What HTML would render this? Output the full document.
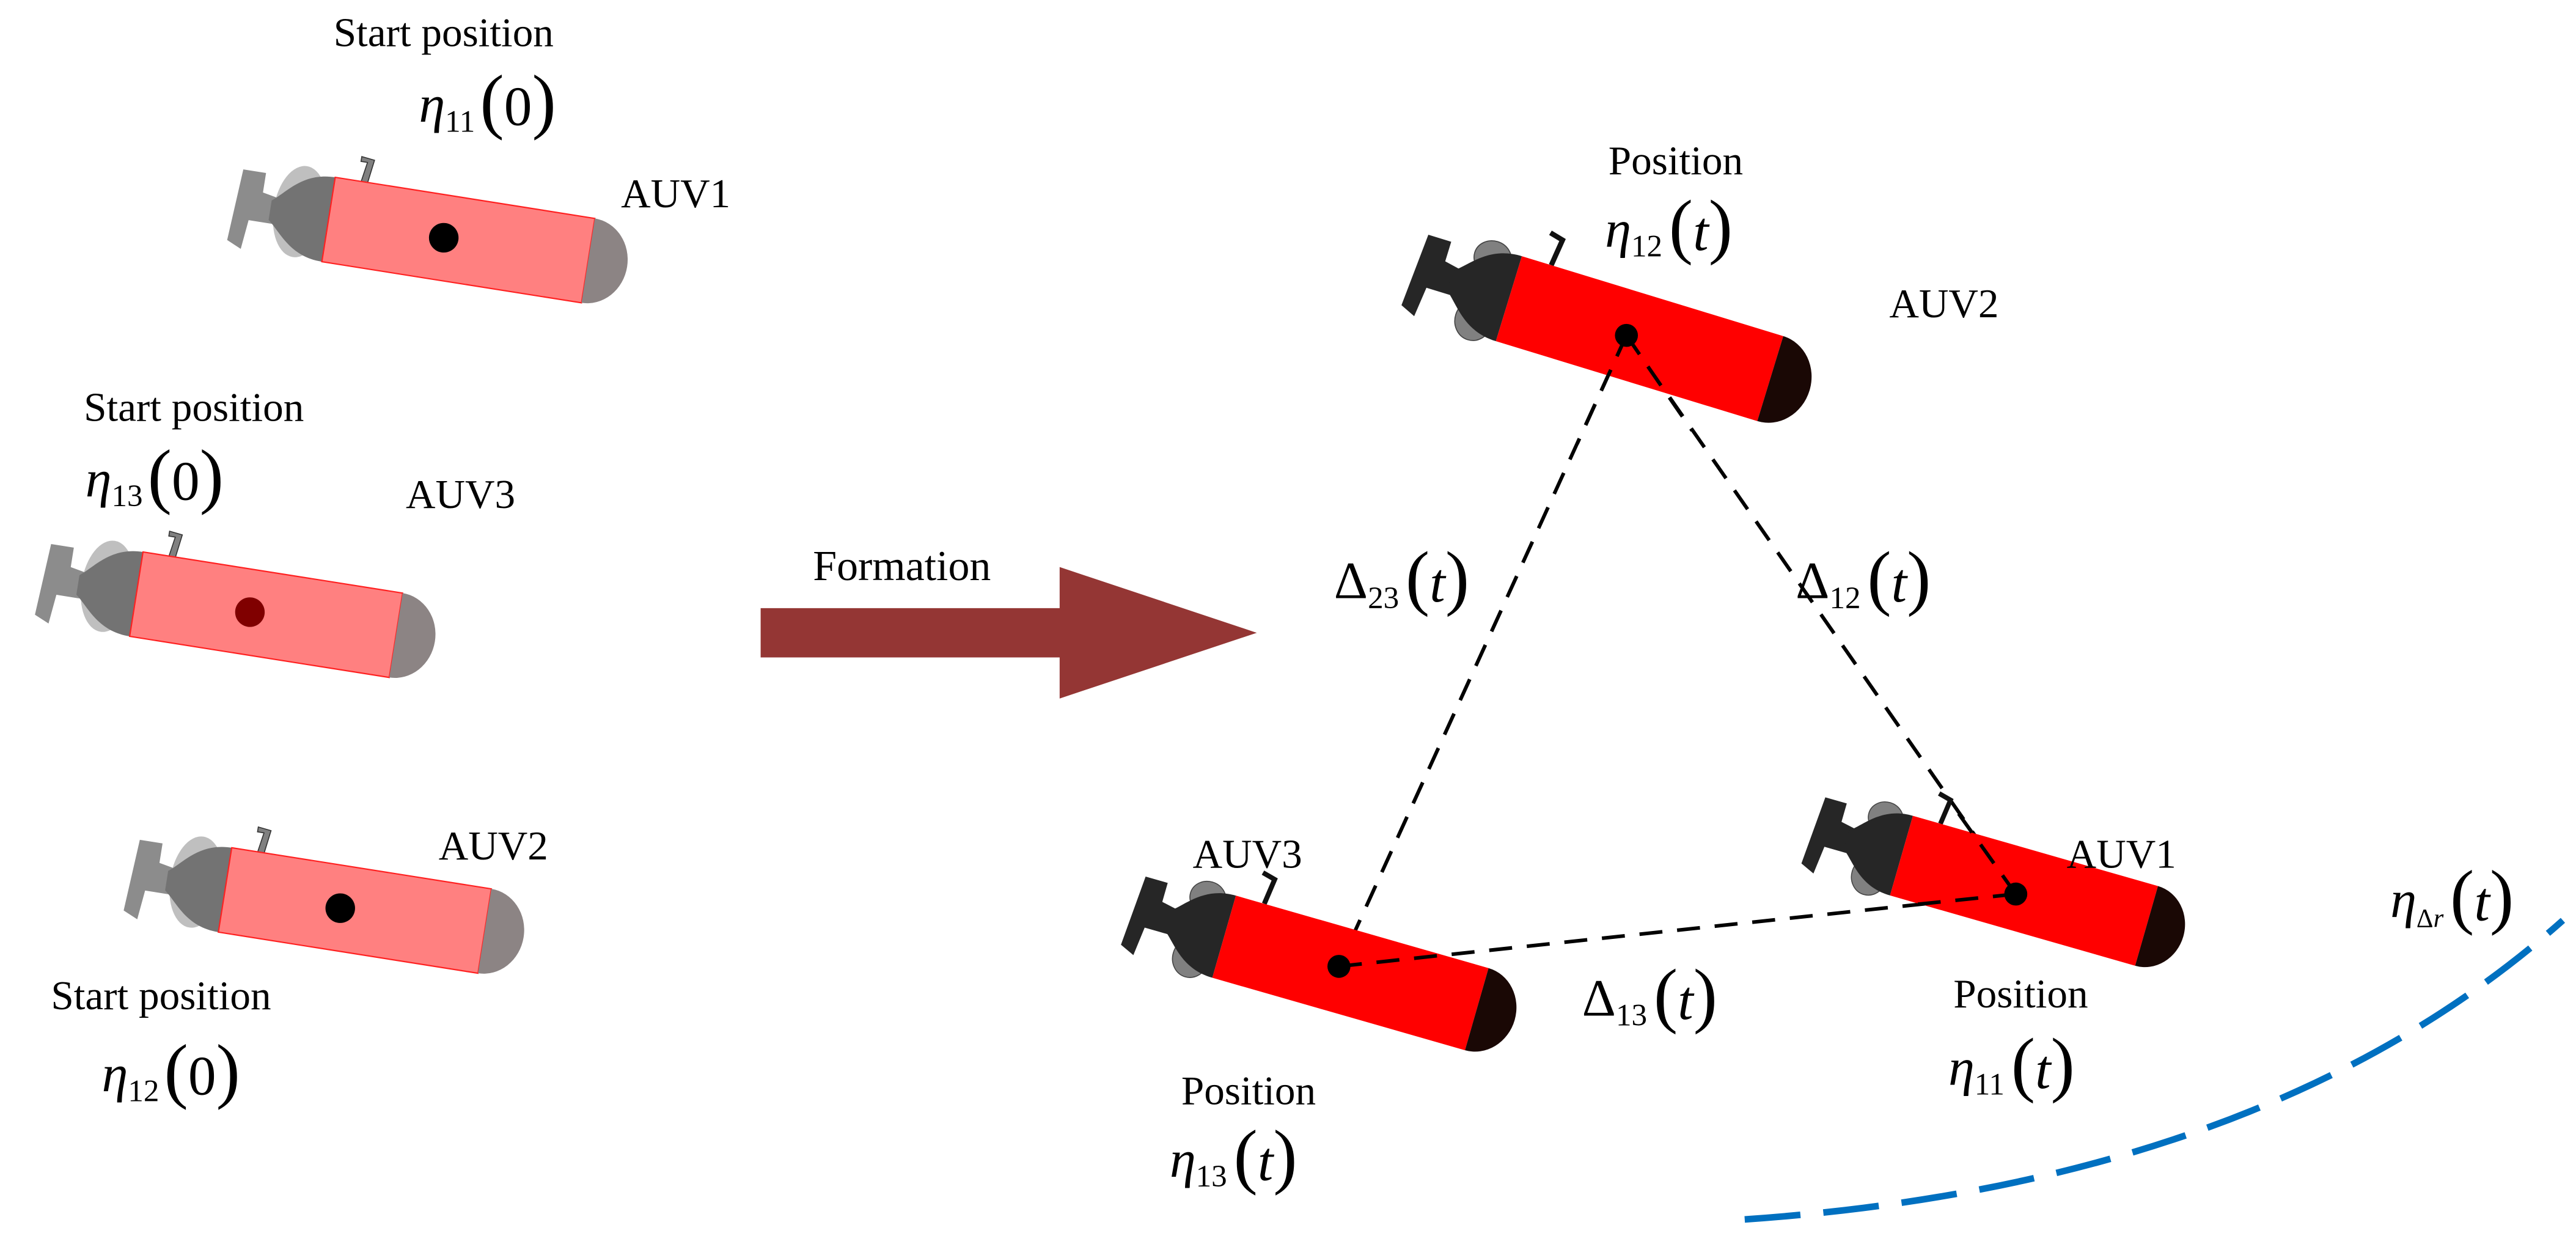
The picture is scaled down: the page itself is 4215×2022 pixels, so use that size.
<!DOCTYPE html>
<html><head><meta charset="utf-8"><style>html,body{margin:0;padding:0;background:#fff}svg{display:block}text{font-family:"Liberation Serif",serif;fill:#000}</style></head>
<body>
<svg width="4215" height="2022" viewBox="0 0 1568 752" xmlns="http://www.w3.org/2000/svg">
<defs>
<g id="fad">
<path d="M-60,-26 L-58,-40 L-66,-41 L-66,-38 L-62,-38 L-64,-26Z" fill="#808080" stroke="#333" stroke-width="0.6"/>
<polygon points="-112,-8 -122,-10 -122,-22 -136,-22 -139,22 -130,26 -128,8 -112,8" fill="#8c8c8c"/>
<ellipse cx="-98" cy="-2" rx="16" ry="28" fill="#bfbfbf"/>
<path d="M-80,-26 C-100,-26 -108,-12 -116,-6 L-116,6 C-108,12 -100,26 -80,26 Z" fill="#737373"/>
<rect x="-80" y="-26" width="160" height="52" fill="#ff8080" stroke="#ff2020" stroke-width="0.8"/>
<path d="M80,-26 A24,26 0 0 1 80,26 Z" fill="#8c8484"/>
</g>
<g id="red">
<path d="M-62,-26 L-60,-42 L-68,-44" fill="none" stroke="#111" stroke-width="3"/>
<polygon points="-112,-8 -122,-10 -122,-22 -136,-22 -139,22 -130,26 -128,8 -112,8" fill="#262626"/>
<ellipse cx="-96" cy="-20" rx="11" ry="10" fill="#808080" stroke="#444" stroke-width="0.6"/>
<ellipse cx="-96" cy="18" rx="11" ry="12" fill="#808080" stroke="#444" stroke-width="0.6"/>
<path d="M-80,-26 C-100,-26 -108,-12 -116,-6 L-116,6 C-108,12 -100,26 -80,26 Z" fill="#262626"/>
<rect x="-80" y="-26" width="160" height="52" fill="#ff0000"/>
<path d="M80,-26 A24,26 0 0 1 80,26 Z" fill="#1a0805"/>
</g>
</defs>

<g transform="translate(279,146) rotate(9)"><use href="#fad"/><circle cx="-9" cy="0" r="9"/></g>
<g transform="translate(162,374) rotate(9)"><use href="#fad"/><circle cx="-10" cy="0" r="9" fill="#800000"/></g>
<g transform="translate(216,554) rotate(9)"><use href="#fad"/><circle cx="-9" cy="0" r="9"/></g>

<polygon points="463,370 645,370 645,345 765,385 645,425 645,400 463,400" fill="#943634"/>
<text x="549" y="353" font-size="26" text-anchor="middle">Formation</text>

<g stroke="#000" stroke-width="2.2" stroke-dasharray="14,9" fill="none">
<line x1="990" y1="204" x2="815" y2="588"/>
<line x1="990" y1="204" x2="1227" y2="544"/>
<line x1="815" y1="588" x2="1227" y2="544"/>
</g>

<g transform="translate(998,206) rotate(17) scale(1.04)"><use href="#red"/></g>
<g transform="translate(822,592) rotate(16) scale(1.0)"><use href="#red"/></g>
<g transform="translate(1232,542) rotate(16) scale(0.97)"><use href="#red"/></g>
<g stroke="#000" stroke-width="2.2" stroke-dasharray="14,9" fill="none">
<line x1="990" y1="204" x2="960" y2="270"/>
<line x1="990" y1="204" x2="1030" y2="262"/>
<line x1="815" y1="588" x2="880" y2="581"/>
<line x1="1227" y1="544" x2="1190" y2="492"/>
<line x1="1227" y1="544" x2="1160" y2="551"/>
</g>
<circle cx="990" cy="204" r="7"/><circle cx="815" cy="588" r="7"/><circle cx="1227" cy="544" r="7"/>

<path d="M1062,742 Q1380,720 1560,560" fill="none" stroke="#0070c0" stroke-width="4" stroke-dasharray="34,14"/>

<g font-size="25">
<text x="270" y="28" text-anchor="middle">Start position</text>
<text x="118" y="256" text-anchor="middle">Start position</text>
<text x="98" y="614" text-anchor="middle">Start position</text>
<text x="378" y="126">AUV1</text>
<text x="247" y="309">AUV3</text>
<text x="267" y="523">AUV2</text>
<text x="1020" y="106" text-anchor="middle">Position</text>
<text x="1150" y="193">AUV2</text>
<text x="726" y="528">AUV3</text>
<text x="760" y="672" text-anchor="middle">Position</text>
<text x="1258" y="528">AUV1</text>
<text x="1230" y="613" text-anchor="middle">Position</text>
</g>
<g font-size="32">
<text x="255" y="74"><tspan font-style="italic">η</tspan><tspan font-size="19" dy="6">11</tspan><tspan font-size="44" dy="-4" dx="3">(</tspan><tspan font-size="34">0</tspan><tspan font-size="44">)</tspan></text>
<text x="52" y="302"><tspan font-style="italic">η</tspan><tspan font-size="19" dy="6">13</tspan><tspan font-size="44" dy="-4" dx="3">(</tspan><tspan font-size="34">0</tspan><tspan font-size="44">)</tspan></text>
<text x="62" y="664"><tspan font-style="italic">η</tspan><tspan font-size="19" dy="6">12</tspan><tspan font-size="44" dy="-4" dx="3">(</tspan><tspan font-size="34">0</tspan><tspan font-size="44">)</tspan></text>
<text x="977" y="150"><tspan font-style="italic">η</tspan><tspan font-size="19" dy="6">12</tspan><tspan font-size="44" dy="-4" dx="4">(</tspan><tspan font-style="italic" font-size="34">t</tspan><tspan font-size="44">)</tspan></text>
<text x="712" y="716"><tspan font-style="italic">η</tspan><tspan font-size="19" dy="6">13</tspan><tspan font-size="44" dy="-4" dx="4">(</tspan><tspan font-style="italic" font-size="34">t</tspan><tspan font-size="44">)</tspan></text>
<text x="1186" y="660"><tspan font-style="italic">η</tspan><tspan font-size="19" dy="6">11</tspan><tspan font-size="44" dy="-4" dx="4">(</tspan><tspan font-style="italic" font-size="34">t</tspan><tspan font-size="44">)</tspan></text>
<text x="812" y="364"><tspan>Δ</tspan><tspan font-size="19" dy="6">23</tspan><tspan font-size="44" dy="-4" dx="4">(</tspan><tspan font-style="italic" font-size="34">t</tspan><tspan font-size="44">)</tspan></text>
<text x="1093" y="364"><tspan>Δ</tspan><tspan font-size="19" dy="6">12</tspan><tspan font-size="44" dy="-4" dx="4">(</tspan><tspan font-style="italic" font-size="34">t</tspan><tspan font-size="44">)</tspan></text>
<text x="963" y="618"><tspan>Δ</tspan><tspan font-size="19" dy="6">13</tspan><tspan font-size="44" dy="-4" dx="4">(</tspan><tspan font-style="italic" font-size="34">t</tspan><tspan font-size="44">)</tspan></text>
<text x="1455" y="558"><tspan font-style="italic">η</tspan><tspan font-size="16" dy="6">Δ<tspan font-style="italic">r</tspan></tspan><tspan font-size="44" dy="-4" dx="4">(</tspan><tspan font-style="italic" font-size="34">t</tspan><tspan font-size="44">)</tspan></text>
</g>
</svg>
</body></html>
